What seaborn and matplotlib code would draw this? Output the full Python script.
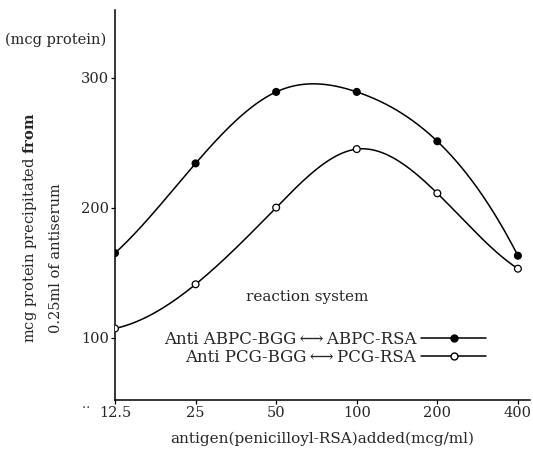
import numpy as np
import pandas as pd
import matplotlib
matplotlib.use("Agg")
import matplotlib.pyplot as plt
from matplotlib.lines import Line2D
import seaborn as sns

antigen = [12.5, 25, 50, 100, 200, 400]
tick_labels = ["12.5", "25", "50", "100", "200", "400"]
abpc = [165, 234, 289, 289, 251, 163]
pcg = [107, 141, 200, 245, 211, 153]
series_names = ["Anti ABPC-BGG\u2009\u27f7\u2009ABPC-RSA", "Anti PCG-BGG\u2009\u27f7\u2009PCG-RSA"]

sns.set_style("ticks")
plt.rcParams["font.family"] = ["DejaVu Serif", "DejaVu Sans"]
plt.rcParams["mathtext.fontset"] = "dejavuserif"


def smooth_curve(t, y, tt):
    # not-a-knot cubic spline through the points, only to draw the smooth curve
    t = np.asarray(t, float)
    y = np.asarray(y, float)
    n = len(t)
    h = np.diff(t)
    A = np.zeros((n, n))
    b = np.zeros(n)
    A[0, 0:3] = [h[1], -(h[0] + h[1]), h[0]]
    A[-1, -3:] = [h[-1], -(h[-2] + h[-1]), h[-2]]
    for i in range(1, n - 1):
        A[i, i - 1] = h[i - 1]
        A[i, i] = 2 * (h[i - 1] + h[i])
        A[i, i + 1] = h[i]
        b[i] = 6 * ((y[i + 1] - y[i]) / h[i] - (y[i] - y[i - 1]) / h[i - 1])
    M = np.linalg.solve(A, b)
    out = np.empty_like(tt)
    for k, x in enumerate(tt):
        i = int(np.clip(np.searchsorted(t, x, side="right") - 1, 0, n - 2))
        a = t[i + 1] - x
        c = x - t[i]
        out[k] = (M[i] * a**3 + M[i + 1] * c**3) / (6 * h[i]) \
            + (y[i] / h[i] - M[i] * h[i] / 6) * a \
            + (y[i + 1] / h[i] - M[i + 1] * h[i] / 6) * c
    return out


df = pd.DataFrame({"antigen": antigen * 2,
                   "protein": abpc + pcg,
                   "system": [series_names[0]] * 6 + [series_names[1]] * 6})

fig = plt.figure(figsize=(5.33, 4.57), dpi=100)
ax = fig.add_axes([115 / 533, 57 / 457, 415 / 533, 390 / 457])

t = np.log2(np.array(antigen) / antigen[0])
tt = np.linspace(t[0], t[-1], 300)
xx = antigen[0] * 2 ** tt
for vals in (abpc, pcg):
    ax.plot(xx, smooth_curve(t, vals, tt), color="black", lw=1.1, zorder=2)

sns.scatterplot(data=df, x="antigen", y="protein", hue="system", style="system",
                palette=["black", "white"], markers=["o", "o"], s=24,
                edgecolor="black", linewidth=0.9, legend=False, ax=ax, zorder=3)

ax.set_xscale("log", base=2)
ax.set_xlim(antigen[0], antigen[0] * 2 ** 5.15)
ax.set_ylim(52, 352)
ax.set_xticks(antigen)
ax.set_xticklabels(tick_labels)
ax.minorticks_off()
ax.set_yticks([100, 200, 300])
ax.tick_params(axis="both", length=3, width=0.9, pad=1.5, labelsize=10.5, color="black")
sns.despine(ax=ax)
for s in ("left", "bottom"):
    ax.spines[s].set_linewidth(1.1)
    ax.spines[s].set_color("black")
ax.set_xlabel("antigen(penicilloyl-RSA)added(mcg/ml)", fontsize=11, labelpad=8)
ax.set_ylabel("")

handles = [Line2D([], [], color="black", lw=1.1, marker="o", markersize=5,
                  markerfacecolor="black", markeredgecolor="black"),
           Line2D([], [], color="black", lw=1.1, marker="o", markersize=5,
                  markerfacecolor="white", markeredgecolor="black")]
ax.legend(handles, series_names, markerfirst=False, frameon=False, fontsize=12,
          handlelength=3.9, handletextpad=0.3, labelspacing=0.05, loc="center",
          bbox_to_anchor=(0.506, 0.133))
ax.text(0.463, 0.264, "reaction system", transform=ax.transAxes, fontsize=11,
        ha="center", va="center")

fig.text(5 / 533, 1 - 40 / 457, "(mcg protein)", fontsize=10.5, va="center", ha="left")
fig.text(30 / 533, 1 - 228 / 457, "mcg protein precipitated $\\mathbf{from}$",
         rotation=90, fontsize=10.5, ha="center", va="center")
fig.text(56 / 533, 1 - 258 / 457, "0.25ml of antiserum",
         rotation=90, fontsize=10.5, ha="center", va="center")
fig.text(86 / 533, 1 - 404 / 457, "\u2025", fontsize=9, ha="center", va="center")

fig.savefig("out.png", dpi=100)
